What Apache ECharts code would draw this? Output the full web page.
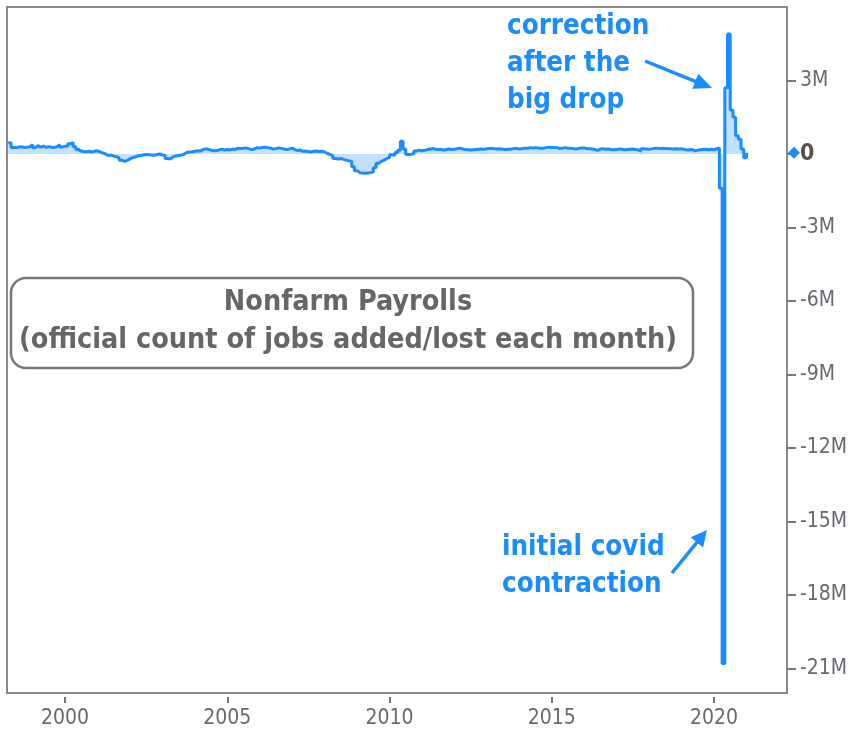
<!DOCTYPE html>
<html><head><meta charset="utf-8">
<script src="https://cdn.jsdelivr.net/npm/echarts@6/dist/echarts.min.js"></script>
<style>html,body{margin:0;padding:0;background:#fff}#c{width:853px;height:730px}</style>
</head><body><div id="c"></div>
<script>
// Monthly change in nonfarm payrolls, thousands of jobs. Series starts April 1998.
const startYear = 1998, startMonth = 4;
const y1998 = [460, 270, 260, 290, 300, 260, 280, 300, 380];
const y1999 = [260, 340, 280, 320, 270, 300, 280, 270, 300, 380, 290, 320];
const y2000 = [330, 420, 460, 300, 180, 120, 100, 90, 110, 80, 120, 130];
const y2001 = [90, 40, 0, -60, -40, -90, -110, -160, -250, -300, -260, -200];
const y2002 = [-150, -120, -80, -60, -40, -20, -30, -40, -50, -20, 0, -40];
const y2003 = [-60, -180, -200, -120, -80, -60, -40, -10, 60, 80, 90, 110];
const y2004 = [130, 120, 180, 210, 190, 160, 130, 140, 170, 200, 160, 180];
const y2005 = [170, 200, 190, 240, 220, 230, 250, 210, 180, 200, 260, 240];
const y2006 = [270, 280, 260, 240, 200, 220, 250, 230, 200, 180, 210, 240];
const y2007 = [180, 140, 160, 110, 120, 100, 80, 110, 120, 100, 110, 80];
const y2008 = [20, -20, -60, -180, -200, -180, -220, -250, -280, -300, -520, -680];
const y2009 = [-760, -780, -790, -780, -760, -740, -560, -380, -300, -250, -180, -150];
const y2010 = [-30, -40, 60, 150, 520, 200, -20, -10, 20, 120, 160, 130];
const y2011 = [150, 180, 200, 230, 190, 180, 190, 160, 180, 200, 180, 190];
const y2012 = [220, 240, 210, 180, 170, 160, 170, 180, 190, 200, 190, 210];
const y2013 = [220, 230, 210, 200, 210, 190, 180, 190, 200, 220, 230, 200];
const y2014 = [220, 240, 230, 260, 250, 260, 250, 230, 240, 260, 280, 270];
const y2015 = [270, 260, 220, 240, 260, 230, 240, 220, 200, 230, 250, 250];
const y2016 = [220, 210, 200, 180, 150, 200, 220, 190, 200, 180, 170, 180];
const y2017 = [210, 190, 170, 180, 190, 200, 180, 170, 120, 210, 200, 190];
const y2018 = [210, 230, 240, 220, 230, 220, 210, 210, 200, 210, 200, 210];
const y2019 = [190, 160, 170, 180, 130, 160, 170, 180, 190, 170, 190, 170];
const y2020 = [220, 250, -1400, -20800, 2700, 4900, 1800, 1500, 750, 600, 200, -150];
const y2021 = [50];

const xTicks = [2000, 2005, 2010, 2015, 2020];
const yTicks = [-21, -18, -15, -12, -9, -6, -3, 0, 3]; // millions

const monthly = [].concat(y1998, y1999, y2000, y2001, y2002, y2003, y2004, y2005,
  y2006, y2007, y2008, y2009, y2010, y2011, y2012, y2013, y2014, y2015, y2016,
  y2017, y2018, y2019, y2020, y2021);
const seriesData = monthly.map((v, i) => [startYear + (startMonth - 1 + i) / 12, v * 1000]);

const BLUE = '#1a8cff';
const axisFont = '"DejaVu Sans Condensed", "DejaVu Sans", sans-serif';
const textFont = '"DejaVu Sans Condensed", "DejaVu Sans", sans-serif';
const GRID = {left: 7, right: 66, top: 7, bottom: 37};

const chart = echarts.init(document.getElementById('c'), null, {renderer: 'canvas'});

function arrow(x1, y1, x2, y2, headLen, headW) {
  const dx = x2 - x1, dy = y2 - y1, L = Math.hypot(dx, dy);
  const ux = dx / L, uy = dy / L, nx = -uy, ny = ux;
  const bx = x2 - ux * headLen, by = y2 - uy * headLen;
  return [
    {type: 'line', shape: {x1: x1, y1: y1, x2: bx + ux * 2, y2: by + uy * 2},
     style: {stroke: BLUE, lineWidth: 3.5}, z: 100},
    {type: 'polygon', shape: {points: [[x2, y2], [bx + nx * headW, by + ny * headW], [bx - nx * headW, by - ny * headW]]},
     style: {fill: BLUE}, z: 100}
  ];
}

const option = {
  animation: false,
  backgroundColor: '#fff',
  grid: Object.assign({show: true, borderColor: '#8a8a8a', borderWidth: 2, backgroundColor: '#fff'}, GRID),
  xAxis: {
    type: 'value', min: 1998.21, max: 2022.25, offset: 4,
    axisLine: {show: false, onZero: false},
    splitLine: {show: false},
    axisTick: {show: true, length: 6, lineStyle: {color: '#777', width: 2}, customValues: xTicks},
    axisLabel: {customValues: xTicks, margin: 11, color: '#666a70', fontSize: 21, fontFamily: axisFont,
      formatter: v => String(v)}
  },
  yAxis: {
    type: 'value', position: 'right', min: -22e6, max: 6e6,
    axisLine: {show: false, onZero: false},
    splitLine: {show: false},
    axisTick: {show: true, length: 9, lineStyle: {color: '#777', width: 2}, customValues: yTicks.map(v => v * 1e6)},
    axisLabel: {
      customValues: yTicks.map(v => v * 1e6), margin: 13, color: '#666a70', fontSize: 21, fontFamily: axisFont,
      formatter: v => v === 0 ? '{z|0}' : (Math.round(v / 1e6)) + 'M',
      rich: {z: {fontWeight: 'bold', color: '#5a5048', fontSize: 23, fontFamily: axisFont}}
    }
  },
  series: [{
    type: 'line', step: 'end', showSymbol: false, clip: true,
    data: seriesData,
    lineStyle: {color: BLUE, width: 3},
    itemStyle: {color: BLUE},
    areaStyle: {color: '#c2e0ff', opacity: 1}
  }]
};
chart.setOption(option);

const last = seriesData[seriesData.length - 1];
const py = chart.convertToPixel({yAxisIndex: 0}, last[1]);
const px = 853 - GRID.right + 7;

const graphics = [
  {type: 'text', x: 507, y: 8, z: 100,
   style: {text: 'correction\nafter the\nbig drop', fill: BLUE, fontFamily: textFont, fontWeight: 'bold', fontSize: 27.5, lineHeight: 37}},
  {type: 'text', x: 502, y: 529, z: 100,
   style: {text: 'initial covid\ncontraction', fill: BLUE, fontFamily: textFont, fontWeight: 'bold', fontSize: 27.5, lineHeight: 37}},
  {type: 'rect', shape: {x: 11, y: 278, width: 682, height: 90, r: 15}, z: 100,
   style: {fill: '#fff', stroke: '#777', lineWidth: 2.5}},
  {type: 'text', x: 348, y: 322, z: 101,
   style: {text: 'Nonfarm Payrolls\n(official count of jobs added/lost each month)', fill: '#666', fontFamily: textFont,
     fontWeight: 'bold', fontSize: 28.5, lineHeight: 38, textAlign: 'center', textVerticalAlign: 'middle'}},
  {type: 'polygon', z: 100, shape: {points: [[px - 6, py], [px, py - 6], [px + 6, py], [px, py + 6]]},
   style: {fill: BLUE}}
].concat(arrow(645, 61, 712, 88, 18, 8), arrow(672, 573, 707, 530, 16, 8));

chart.setOption({graphic: graphics});
</script>
</body></html>
